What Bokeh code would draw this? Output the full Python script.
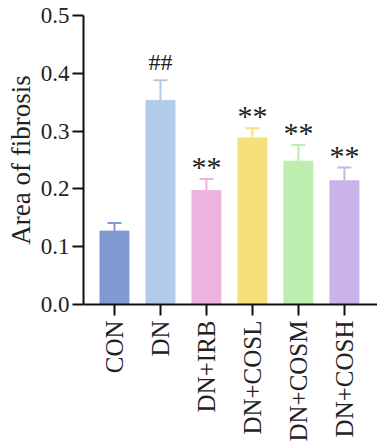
from bokeh.plotting import figure
from bokeh.models import ColumnDataSource, Whisker, FixedTicker, Range1d, TeeHead, CustomJSTickFormatter
from bokeh.core.properties import value
from bokeh.embed import file_html
from bokeh.resources import INLINE

groups = ["CON", "DN", "DN+IRB", "DN+COSL", "DN+COSM", "DN+COSH"]
means = [0.127, 0.353, 0.197, 0.288, 0.248, 0.214]
errors = [0.014, 0.035, 0.020, 0.017, 0.028, 0.023]
marks = ["", "##", "**", "**", "**", "**"]
colors = ["#7f9ad2", "#b3cbea", "#ecb3df", "#f5e07c", "#bdeeb0", "#c9b3e8"]
y_ticks = [0.0, 0.1, 0.2, 0.3, 0.4, 0.5]

xs = list(range(len(groups)))
uppers = [m + e for m, e in zip(means, errors)]
src = ColumnDataSource(dict(x=xs, top=means, upper=uppers, lower=means, color=colors))

hash_idx = [i for i, m in enumerate(marks) if m.startswith("#")]
star_idx = [i for i, m in enumerate(marks) if m.startswith("*")]
hash_src = ColumnDataSource(dict(x=[xs[i] for i in hash_idx], y=[uppers[i] for i in hash_idx],
                                 t=[marks[i] for i in hash_idx]))
star_src = ColumnDataSource(dict(x=[xs[i] for i in star_idx], y=[uppers[i] for i in star_idx],
                                 t=[marks[i] for i in star_idx]))

FONT = "Liberation Serif"

p = figure(width=377, height=444, output_backend="svg", toolbar_location=None,
           x_range=Range1d(-0.674, 5.72), y_range=Range1d(0, 0.5),
           min_border_left=83, min_border_right=0, min_border_top=15,
           min_border_bottom=138)
p.outline_line_color = None
p.grid.visible = False
p.background_fill_color = "white"

p.vbar(x="x", top="top", width=0.63, bottom=0, source=src,
       fill_color="color", line_color="color", line_width=1)

w = Whisker(base="x", upper="upper", lower="lower", source=src,
            line_color="color", line_width=2,
            upper_head=TeeHead(size=14, line_color={"field": "color"}, line_width=2),
            lower_head=None)
p.add_layout(w)

p.text(x="x", y="y", text="t", source=hash_src, text_align="center",
       text_baseline="bottom", y_offset=-5, text_font=value(FONT),
       text_font_size="24px", text_color="#222222")
p.text(x="x", y="y", text="t", source=star_src, text_align="center",
       text_baseline="bottom", y_offset=4, text_font=value(FONT),
       text_font_size="30px", text_color="#222222")

p.xaxis.ticker = FixedTicker(ticks=xs)
p.xaxis.major_label_overrides = {i: g for i, g in enumerate(groups)}
p.xaxis.major_label_orientation = 1.5708
p.yaxis.ticker = FixedTicker(ticks=y_ticks)
p.yaxis.formatter = CustomJSTickFormatter(code="return tick.toFixed(1);")

for ax in (p.xaxis, p.yaxis):
    ax.axis_line_width = 2
    ax.axis_line_color = "#111111"
    ax.major_tick_line_width = 2
    ax.major_tick_line_color = "#111111"
    ax.major_tick_out = 11
    ax.major_tick_in = 0
    ax.minor_tick_line_color = None
    ax.major_label_text_font = FONT
    ax.major_label_text_color = "#222222"

p.yaxis.major_label_text_font_size = "23px"
p.xaxis.major_label_text_font_size = "25px"
p.yaxis.axis_label = "Area of fibrosis"
p.yaxis.axis_label_text_font = FONT
p.yaxis.axis_label_text_font_size = "27px"
p.yaxis.axis_label_text_font_style = "normal"
p.yaxis.axis_label_text_color = "#222222"
p.yaxis.axis_label_standoff = 2
p.yaxis.major_label_standoff = 3
p.xaxis.major_label_standoff = 5

open("out.html", "w").write(file_html(p, INLINE))
